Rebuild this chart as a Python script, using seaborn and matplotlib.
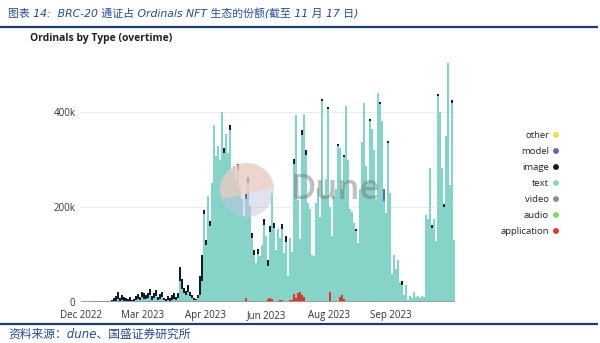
import numpy as np
import pandas as pd
import matplotlib
matplotlib.use("Agg")
import matplotlib.pyplot as plt
import seaborn as sns
from matplotlib.patches import Circle, Polygon

# ---------------- data (thousands of inscriptions per day) ----------------
types = ['other', 'model', 'image', 'text', 'video', 'audio', 'application']
colors = ['#e4e34c', '#5b68b2', '#0f1d2c', '#86d3c8', '#8e8e8e', '#7be05b', '#d8392b']

text_k = [
    0.1, 0.2, 0.1, 0.2, 0.2, 0.2, 0.2, 0.3, 0.2, 0.2, 0.4, 0.3, 0.4, 0.5, 0.6, 1.0,
    2, 3, 6, 3, 4, 3, 2, 2, 3, 2, 2, 4, 7, 4, 10, 7, 6, 8, 14, 5, 8, 12, 4, 6, 10, 4,
    2, 4, 3, 5, 7, 4, 8,
    44, 28, 18, 14, 21, 13, 8, 5, 4, 9, 14, 45,
    185, 121, 223, 160, 251, 372, 307, 328, 300, 400, 313, 353, 314, 362, 272, 286,
    258, 278, 237, 216, 181, 208, 251, 202, 134, 98, 82, 100, 96, 120, 162, 138, 70,
    138, 223, 155, 110, 153, 131, 150, 103, 126, 54, 131, 100, 274, 385, 195, 110,
    337, 385, 309, 209, 195, 96,
    96, 209, 237, 180, 423, 223, 258, 406, 180, 138, 223, 237, 328, 314, 223, 300,
    413, 300, 195, 188, 167, 150, 124, 237, 335, 420, 286, 251, 381, 363, 321, 216,
    441, 416, 381, 212, 188, 335, 230, 60, 100, 70, 85, 43, 36, 15, 36, 5, 12, 8, 22,
    10, 12, 8, 12, 10, 184, 175, 282, 156, 175, 128, 433, 401, 283, 201, 349, 503,
    247, 420, 131,
]

image_early_k = [
    0.4, 0.6, 0.5, 0.8, 0.6, 1.0, 0.8, 1.2, 1.0, 0.8, 1.4, 1.2, 1.6, 2.0, 2.4, 3.0,
    6, 9, 15, 6, 10, 8, 6, 4, 7, 3, 5, 8, 9, 6, 12, 11, 8, 12, 14, 7, 10, 13, 6, 10,
    12, 5, 4, 8, 5, 9, 11, 6, 12,
    30, 20, 12, 10, 15, 9, 6, 4, 3, 6, 40, 55,
]
image_tips_k = {61: 8, 62: 10, 64: 10, 71: 12, 74: 11, 78: 12, 82: 12, 83: 12, 85: 12,
                86: 12, 88: 10, 91: 12, 93: 12, 94: 12, 96: 12, 100: 10, 102: 12,
                106: 12, 110: 12, 112: 12, 120: 4, 123: 4, 128: 5, 131: 4, 137: 4,
                144: 4, 149: 4, 153: 4, 160: 8, 175: 6, 178: 4, 181: 5, 185: 6}
application_k = {70: 1, 75: 1, 82: 8, 88: 2, 93: 6, 94: 9, 95: 7, 99: 4, 100: 4, 104: 4,
                 105: 5, 106: 16, 107: 8, 108: 20, 109: 22, 110: 14, 111: 10, 115: 2,
                 118: 2, 121: 3, 124: 21, 129: 10, 130: 14, 131: 6, 135: 2, 140: 2,
                 145: 2, 158: 3}
model_k = {151: 25}

xtick_labels = ['Dec 2022', 'Mar 2023', 'Apr 2023', 'Jun 2023', 'Aug 2023', 'Sep 2023']
ytick_values = [0, 200, 400]
ytick_labels = ['0', '200k', '400k']

title = '图表 14:  BRC-20 通证占 Ordinals NFT 生态的份额(截至 11 月 17 日)'
subtitle = 'Ordinals by Type (overtime)'
source = '资料来源：dune、国盛证券研究所'

# ---------------- long table ----------------
n = len(text_k)
image_full = list(image_early_k) + [0] * (n - len(image_early_k))
for k, v in image_tips_k.items():
    image_full[k] = v
rows = []
for i in range(n):
    vals = {'other': 0, 'model': model_k.get(i, 0), 'image': image_full[i],
            'text': text_k[i], 'video': 0, 'audio': 0,
            'application': application_k.get(i, 0)}
    for t in types:
        rows.append((i, t, vals[t]))
df = pd.DataFrame(rows, columns=['day', 'type', 'value'])

# ---------------- figure ----------------
sns.set_theme(style='white')
plt.rcParams['font.family'] = ['Open Sans', 'Noto Sans CJK SC', 'DejaVu Sans']

W, H = 600, 343
fig = plt.figure(figsize=(W / 100, H / 100), dpi=100)
fig.patch.set_facecolor('white')

ax = fig.add_axes([81 / W, (H - 302) / H, 374 / W, 247 / H])
sns.histplot(data=df, x='day', weights='value', hue='type', hue_order=types,
             palette=dict(zip(types, colors)), multiple='stack', discrete=True,
             shrink=0.85, linewidth=0, edgecolor='none', alpha=1, legend=False, ax=ax)
ax.set_xlim(-0.5, n - 0.5)
ax.set_ylim(0, 520)
ax.set_xlabel('')
ax.set_ylabel('')
for s in ax.spines.values():
    s.set_visible(False)
ax.set_axisbelow(True)
ax.yaxis.grid(True, color='#ebebeb', lw=0.8)
ax.xaxis.grid(False)
ax.axhline(0, color='#9a9a9a', lw=1.3, zorder=5)
ax.set_yticks(ytick_values)
ax.set_yticklabels(ytick_labels)
ax.set_xticks([-0.5, 30.5, 61.5, 92.5, 123.5, 154.5])
ax.set_xticklabels(xtick_labels)
ax.tick_params(axis='both', length=0, labelsize=7, colors='#333333')
ax.tick_params(axis='y', pad=4)
ax.tick_params(axis='x', pad=5.5)

# ---------------- overlay (pixel coordinates) ----------------
ov = fig.add_axes([0, 0, 1, 1], zorder=10)
ov.set_xlim(0, W)
ov.set_ylim(H, 0)
ov.axis('off')
ov.patch.set_alpha(0)

ov.text(8, 14, title, fontsize=7.8, style='italic', color='#234a9c',
        ha='left', va='center', family=['DejaVu Sans', 'Noto Sans CJK SC'])
ov.plot([0, 598], [27, 27], color='#1f3b73', lw=1.6, solid_capstyle='butt')
ov.text(30, 38, subtitle, fontsize=7.5, fontweight='bold', color='#222222',
        ha='left', va='center')
ov.plot([0, 598], [324, 324], color='#1f3b73', lw=1.6, solid_capstyle='butt')
ov.text(8, 334, source, fontsize=8.5, style='italic', color='#234a9c',
        ha='left', va='center', family=['DejaVu Sans', 'Noto Sans CJK SC'])

# legend
leg_y = [135, 151, 167, 183, 199, 215, 231]
for t, c, y in zip(types, colors, leg_y):
    ov.text(549, y, t, fontsize=6.8, color='#222222', ha='right', va='center')
    ov.scatter([556], [y], s=18, color=c, edgecolors='none')

# Dune watermark
cx, cy, r = 247, 190, 27
ov.add_patch(Circle((cx, cy), r, fc='#c3c6e2', ec='none', alpha=0.5))
ang = np.radians(np.linspace(5, 200, 60))
pts = np.column_stack([cx + r * np.cos(ang), cy - r * np.sin(ang)])
ov.add_patch(Polygon(pts, closed=True, fc='#f6cdb9', ec='none', alpha=0.6))
ov.text(291, 190, 'Dune', fontsize=25, color='#707070', alpha=0.45,
        ha='left', va='center', fontweight='semibold')

fig.savefig('out.png', dpi=100, facecolor='white')
